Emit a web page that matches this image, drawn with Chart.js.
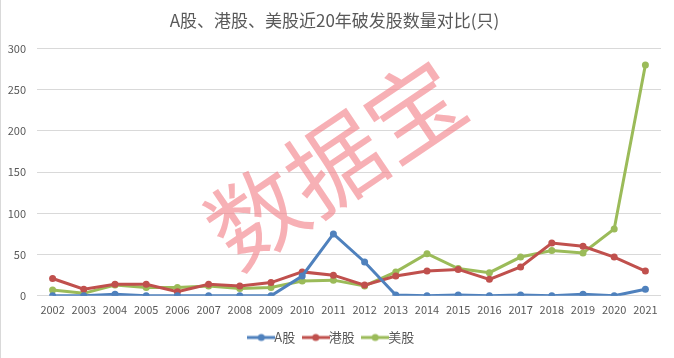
<!DOCTYPE html>
<html><head><meta charset="utf-8">
<script src="https://cdn.jsdelivr.net/npm/chart.js@4"></script>
<style>html,body{margin:0;padding:0;background:#fff;}#wrap{width:674px;height:358px;position:relative;box-sizing:border-box;border-left:1px solid #d9d9d9;}</style>
</head><body><div id="wrap"><canvas id="c" width="673" height="358"></canvas></div>
<script>
const years = ['2002','2003','2004','2005','2006','2007','2008','2009','2010','2011','2012','2013','2014','2015','2016','2017','2018','2019','2020','2021'];
const aShares = [0,0,2,0,0,0,0,0,24,75,41,1,0,1,0,1,0,2,0,8];
const hkShares = [21,8,14,14,5,14,12,16,29,25,13,24,30,32,20,35,64,60,47,30];
const usShares = [7,3,13,10,10,12,9,10,18,19,12,29,51,33,28,47,55,52,81,280];
const yTicks = [0,50,100,150,200,250,300];
const seriesNames = ['A股','港股','美股'];
const colors = ['#4f81bd','#c0504d','#9bbb59'];
const titleText = 'A股、港股、美股近20年破发股数量对比(只)';
const watermarkText = '数据宝';

function legendIcon(color){
  const cv = document.createElement('canvas');
  cv.width = 28; cv.height = 10;
  const g = cv.getContext('2d');
  g.strokeStyle = color; g.lineWidth = 3;
  g.beginPath(); g.moveTo(0,5); g.lineTo(28,5); g.stroke();
  g.fillStyle = color; g.beginPath(); g.arc(14,5,3.5,0,Math.PI*2); g.fill();
  return cv;
}

const watermark = {
  id:'watermark',
  beforeDatasetsDraw(chart){
    const ctx = chart.ctx;
    ctx.save();
    ctx.translate(334,163);
    ctx.rotate(-34*Math.PI/180);
    ctx.font = '95px "Noto Sans CJK SC"';
    ctx.fillStyle = 'rgba(242,128,136,0.62)';
    ctx.textAlign = 'center';
    ctx.textBaseline = 'middle';
    ctx.fillText(watermarkText,0,0);
    ctx.restore();
  }
};

const datasets = [aShares,hkShares,usShares].map((d,i)=>({
  label: seriesNames[i], data: d,
  borderColor: colors[i], backgroundColor: colors[i],
  borderWidth: 3, pointRadius: 3.5, pointHoverRadius: 3.5,
  pointBackgroundColor: colors[i], pointBorderWidth: 0,
  tension: 0, fill: false
}));

new Chart(document.getElementById('c'),{
  type:'line',
  data:{labels:years, datasets},
  plugins:[watermark],
  options:{
    responsive:false, animation:false,
    layout:{padding:{left:7,right:13,top:0,bottom:4}},
    plugins:{
      title:{display:true,text:titleText,color:'#595959',font:{family:'"Noto Sans CJK SC"',size:17,weight:'normal'},padding:{top:10,bottom:18}},
      legend:{position:'bottom',labels:{
        color:'#595959',font:{family:'"Noto Sans CJK SC"',size:13},
        usePointStyle:true, padding:14,
        generateLabels(chart){
          return chart.data.datasets.map((ds,i)=>({
            text: ds.label, pointStyle: legendIcon(colors[i]), fillStyle: colors[i],
            strokeStyle: colors[i], lineWidth:0, hidden:false, datasetIndex:i, fontColor:'#595959'
          }));
        }
      }},
      tooltip:{enabled:false}
    },
    scales:{
      x:{offset:true,grid:{display:false},border:{display:false},
         afterFit(s){s.height+=2;},
         ticks:{color:'#595959',font:{family:'"Noto Sans CJK SC"',size:11},maxRotation:0,autoSkip:false,padding:-1}},
      y:{min:0,max:300,afterBuildTicks(s){s.ticks=yTicks.map(v=>({value:v}));},
         afterFit(s){s.width=29;},
         grid:{color:'#d9d9d9',drawTicks:false},border:{display:false},
         ticks:{color:'#595959',font:{family:'"Noto Sans CJK SC"',size:11},padding:11}}
    }
  }
});
</script></body></html>
